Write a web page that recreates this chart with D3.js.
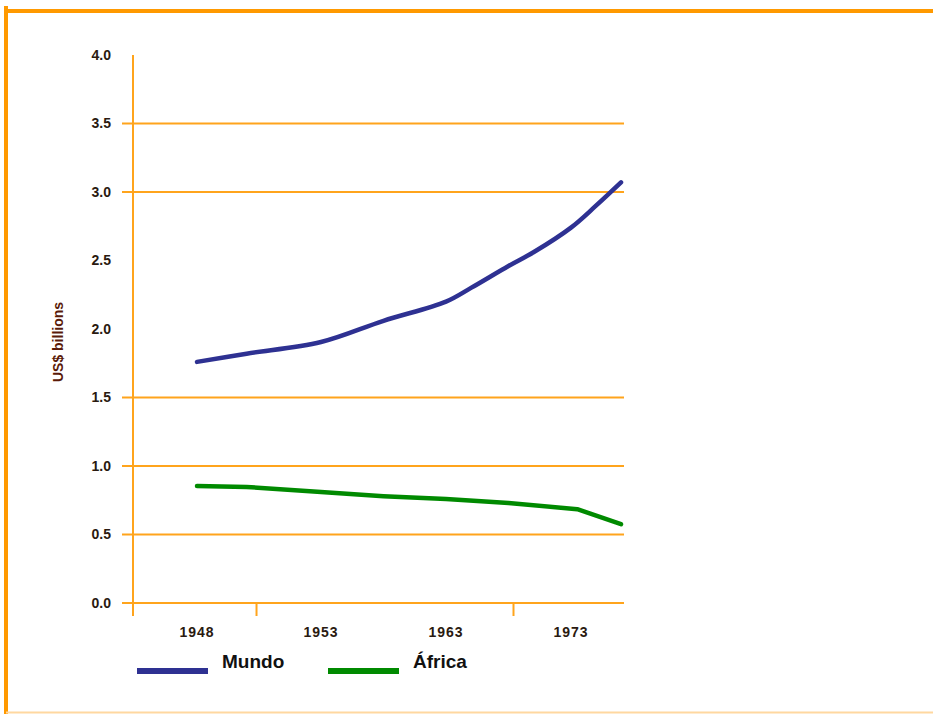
<!DOCTYPE html>
<html>
<head>
<meta charset="utf-8">
<script src="https://cdn.jsdelivr.net/npm/d3@7"></script>
<style>
  html, body { margin: 0; padding: 0; background: #fff; }
  svg { display: block; }
  .tick-label { font-family: "Liberation Sans Narrow", "Arial Narrow", "Liberation Sans", sans-serif; font-weight: bold; fill: #2a1a10; }
</style>
</head>
<body>
<svg id="chart" width="933" height="714"></svg>
<script>
// Year positions shown on the category axis
const yearLabels = ["1948", "1953", "1963", "1973"];
const labelYears = [1948, 1953, 1963, 1973];

// Series (US$ billions)
const mundoYears = [1948, 1950, 1953, 1958, 1963, 1965, 1968, 1970, 1973, 1975, 1977];
const mundo = [1.76, 1.82, 1.905, 2.06, 2.20, 2.30, 2.46, 2.56, 2.74, 2.90, 3.07];
const africaYears = [1948, 1950, 1953, 1958, 1963, 1968, 1973.5, 1977];
const africa = [0.854, 0.847, 0.81, 0.78, 0.76, 0.73, 0.685, 0.575];

// Value axis
const yTicks = [0.0, 0.5, 1.0, 1.5, 2.0, 2.5, 3.0, 3.5, 4.0];
const gridValues = [0.0, 0.5, 1.0, 1.5, 3.0, 3.5];
const xTickYears = [1950.4, 1968.4];

const seriesNames = ["Mundo", "África"];
const seriesColors = ["#2e3192", "#008a00"];

const svg = d3.select("#chart");
const orange = "#ff9900";
const grid = "#ffa41c";

// Outer frame
svg.append("line").attr("x1", 6).attr("x2", 933).attr("y1", 11).attr("y2", 11)
  .attr("stroke", orange).attr("stroke-width", 4);
svg.append("line").attr("x1", 6).attr("x2", 6).attr("y1", 6).attr("y2", 714)
  .attr("stroke", orange).attr("stroke-width", 4);
svg.append("line").attr("x1", 6).attr("x2", 933).attr("y1", 712.5).attr("y2", 712.5)
  .attr("stroke", "#ffd8a0").attr("stroke-width", 2);

const plotLeft = 133, plotRight = 624, plotTop = 55, plotBottom = 603;

// Category positions are evenly spaced although the years are not
const xPos = [197, 321, 446, 571];
const x = d3.scaleLinear().domain(labelYears).range(xPos);
const y = d3.scaleLinear().domain([0, 4]).range([plotBottom, plotTop]);

// Horizontal grid lines
svg.append("g").selectAll("line").data(gridValues).join("line")
  .attr("x1", 122).attr("x2", plotRight)
  .attr("y1", d => y(d)).attr("y2", d => y(d))
  .attr("stroke", grid).attr("stroke-width", 2);

// Vertical axis line
svg.append("line").attr("x1", plotLeft).attr("x2", plotLeft).attr("y1", plotTop).attr("y2", 616)
  .attr("stroke", grid).attr("stroke-width", 2);

// X tick marks
svg.append("g").selectAll("line").data(xTickYears).join("line")
  .attr("x1", d => x(d)).attr("x2", d => x(d))
  .attr("y1", plotBottom).attr("y2", 616)
  .attr("stroke", grid).attr("stroke-width", 2);

// Y tick labels
svg.append("g").selectAll("text").data(yTicks).join("text")
  .attr("class", "tick-label")
  .attr("x", 111).attr("y", d => y(d))
  .attr("dy", "0.35em")
  .attr("text-anchor", "end")
  .attr("font-size", 14)
  .text(d => d3.format(".1f")(d));

// X tick labels
svg.append("g").selectAll("text").data(labelYears).join("text")
  .attr("class", "tick-label")
  .attr("x", d => x(d)).attr("y", 637)
  .attr("text-anchor", "middle")
  .attr("font-size", 14)
  .attr("letter-spacing", 1)
  .text((d, i) => yearLabels[i]);

// Y axis title
svg.append("text")
  .attr("transform", `translate(63,342) rotate(-90)`)
  .attr("text-anchor", "middle")
  .attr("font-family", "'Liberation Sans Narrow', 'Arial Narrow', sans-serif")
  .attr("font-weight", "bold")
  .attr("font-size", 14)
  .attr("fill", "#5a1a08")
  .text("US$ billions");

// Series lines
svg.append("defs").append("clipPath").attr("id", "plot")
  .append("rect").attr("x", plotLeft).attr("y", plotTop)
  .attr("width", plotRight - plotLeft + 1).attr("height", plotBottom - plotTop);

const series = [
  { years: mundoYears, values: mundo, curve: d3.curveCatmullRom },
  { years: africaYears, values: africa, curve: d3.curveLinear }
];
series.forEach((s, k) => {
  const line = d3.line().x((d, i) => x(s.years[i])).y(d => y(d)).curve(s.curve);
  svg.append("path")
    .attr("d", line(s.values))
    .attr("fill", "none")
    .attr("stroke", seriesColors[k])
    .attr("stroke-width", 4.5)
    .attr("stroke-linecap", "round")
    .attr("stroke-linejoin", "round")
    .attr("clip-path", "url(#plot)");
});

// Legend
const legendX = [137, 328];
seriesNames.forEach((name, k) => {
  const g = svg.append("g").attr("transform", `translate(${legendX[k]},671)`);
  g.append("line").attr("x1", 0).attr("x2", 71).attr("y1", 0).attr("y2", 0)
    .attr("stroke", seriesColors[k]).attr("stroke-width", 6);
  g.append("text")
    .attr("x", 85).attr("y", -3)
    .attr("font-family", "'Liberation Sans Narrow', 'Arial Narrow', sans-serif")
    .attr("font-weight", "bold")
    .attr("font-size", 19)
    .attr("fill", "#111")
    .text(name);
});
</script>
</body>
</html>
